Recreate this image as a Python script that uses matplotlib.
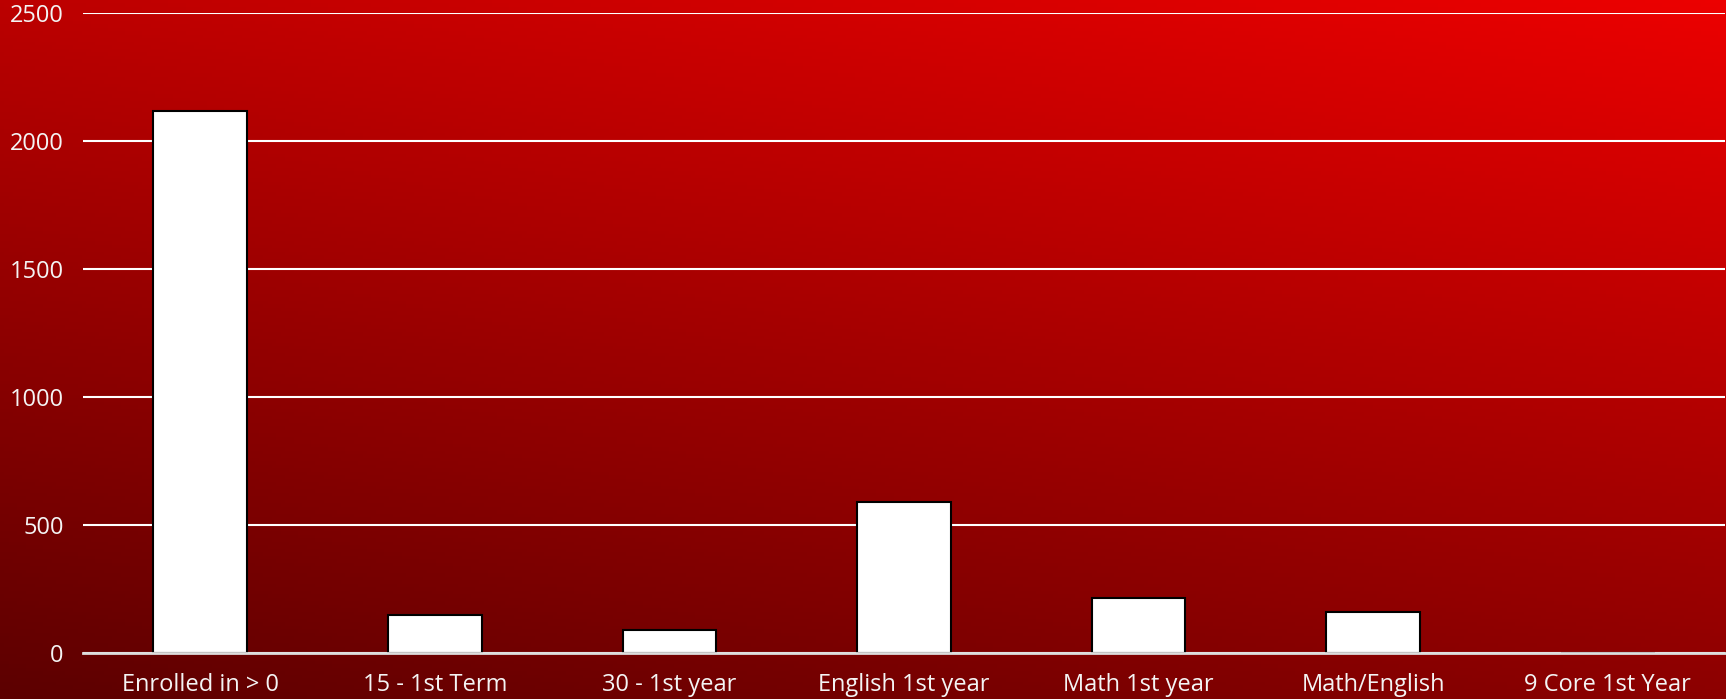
import numpy as np
import matplotlib
matplotlib.use("Agg")
import matplotlib.pyplot as plt
from matplotlib.colors import LinearSegmentedColormap

categories = ["Enrolled in > 0", "15 - 1st Term", "30 - 1st year", "English 1st year",
              "Math 1st year", "Math/English", "9 Core 1st Year"]
counts = [2117, 150, 91, 592, 215, 160, 0]
y_ticks = [0, 500, 1000, 1500, 2000, 2500]

plt.rcParams['font.family'] = ['Open Sans', 'DejaVu Sans']

fig = plt.figure(figsize=(17.26, 6.99), dpi=100)

# diagonal red background gradient (dark bottom-left, bright top-right)
bg = fig.add_axes([0, 0, 1, 1], zorder=0)
gx, gy = np.meshgrid(np.linspace(0, 1, 400), np.linspace(0, 1, 200))
shade = 0.5 * gx + 1.0 * (1 - gy)
shade = shade / shade.max()
cmap = LinearSegmentedColormap.from_list("reds", ["#5c0000", "#ec0000"])
bg.imshow(shade, cmap=cmap, aspect="auto", extent=[0, 1, 0, 1], origin="upper")
bg.axis("off")

ax = fig.add_axes([0.0481, 0.0654, 0.9513, 0.9156], zorder=1)
ax.patch.set_alpha(0)

x = np.arange(len(categories))
ax.bar(x, counts, width=0.4, color="white", edgecolor="black", linewidth=1.5, zorder=3)

ax.set_xlim(-0.5, len(categories) - 0.5)
ax.set_ylim(0, 2500)
ax.set_yticks(y_ticks)
ax.set_xticks(x)
ax.set_xticklabels(categories)
ax.yaxis.grid(True, color="white", linewidth=1.5, zorder=1)
ax.set_axisbelow(True)

for s in ["top", "right", "left"]:
    ax.spines[s].set_visible(False)
ax.spines["bottom"].set_color("#dddddd")
ax.spines["bottom"].set_linewidth(2)
ax.spines["bottom"].set_zorder(4)

ax.tick_params(axis="both", length=0, colors="#f4f4f4", labelsize=17)
ax.tick_params(axis="y", pad=14)
ax.tick_params(axis="x", pad=14)

fig.savefig("out.png", dpi=100)
